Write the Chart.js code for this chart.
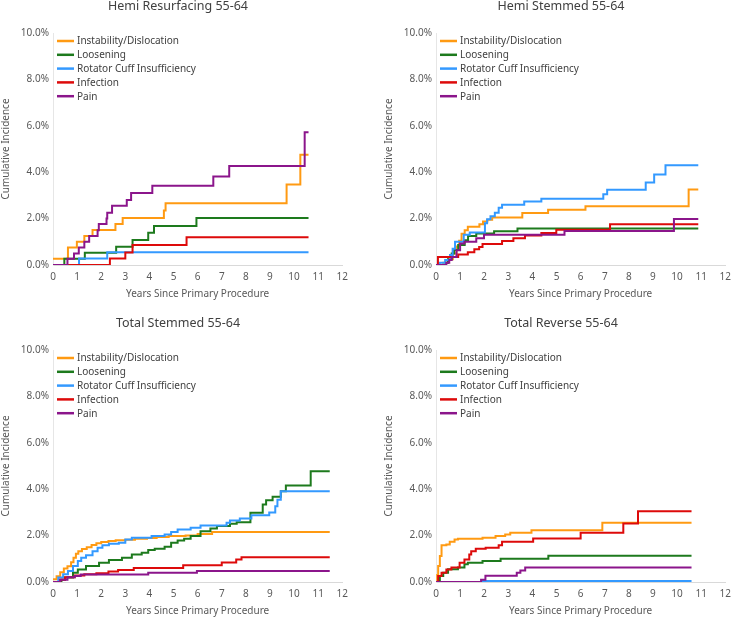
<!DOCTYPE html>
<html><head><meta charset="utf-8">
<script src="https://cdn.jsdelivr.net/npm/chart.js@4/dist/chart.umd.min.js"></script>
<style>
html,body{margin:0;padding:0;background:#fff;overflow:hidden;width:737px;height:619px;position:relative}
canvas{position:absolute}
</style></head><body>
<canvas id="c0" width="369" height="305" style="left:-15px;top:0px"></canvas>
<canvas id="c1" width="369" height="305" style="left:368px;top:0px"></canvas>
<canvas id="c2" width="369" height="305" style="left:-15px;top:317px"></canvas>
<canvas id="c3" width="369" height="305" style="left:368px;top:317px"></canvas>
<script>
// ---------- DATA ----------
const causes = ['Instability/Dislocation', 'Loosening', 'Rotator Cuff Insufficiency', 'Infection', 'Pain'];
const panelTitles = ['Hemi Resurfacing 55-64', 'Hemi Stemmed 55-64', 'Total Stemmed 55-64', 'Total Reverse 55-64'];
const xTickValues = [0,1,2,3,4,5,6,7,8,9,10,11,12];
const yTickValues = [0,2,4,6,8,10];
const xAxisTitle = 'Years Since Primary Procedure';
const yAxisTitle = 'Cumulative Incidence';

// [years, cumulative incidence %]
const hrInstability = [[0,0.27],[0.62,0.75],[0.99,1.0],[1.3,1.25],[1.64,1.51],[2.59,1.77],[2.89,2.03],[4.6,2.35],[4.67,2.66],[9.69,3.47],[10.26,4.75],[10.6,4.75]];
const hrLoosening = [[0,0],[0.47,0.27],[1.32,0.53],[2.62,0.79],[3.3,1.08],[3.95,1.39],[4.19,1.68],[5.95,2.03],[10.6,2.03]];
const hrRotatorCuff = [[0,0],[1.08,0.28],[2.25,0.55],[10.6,0.55]];
const hrInfection = [[0,0],[2.36,0.28],[3.0,0.54],[3.3,0.86],[5.54,1.2],[10.6,1.2]];
const hrPain = [[0,0],[0.6,0.27],[0.87,0.5],[1.07,0.75],[1.3,1.0],[1.5,1.25],[1.85,1.5],[1.9,1.77],[2.22,2.0],[2.25,2.25],[2.45,2.55],[3.06,2.8],[3.24,3.1],[4.12,3.42],[6.65,3.82],[7.31,4.27],[10.44,5.72],[10.6,5.72]];

const hsInstability = [[0,0],[0.3,0.1],[0.5,0.25],[0.7,0.5],[0.85,0.8],[0.96,1.05],[1.06,1.35],[1.19,1.5],[1.32,1.65],[1.8,1.76],[1.95,1.87],[2.13,1.95],[2.33,2.05],[3.58,2.24],[4.65,2.38],[6.2,2.53],[10.48,3.25],[10.88,3.25]];
const hsLoosening = [[0,0],[0.4,0.1],[0.5,0.25],[0.65,0.5],[0.75,0.65],[0.92,0.86],[1.19,1.07],[1.33,1.25],[1.67,1.36],[2.41,1.46],[3.38,1.57],[10.88,1.57]];
const hsRotatorCuff = [[0,0],[0.15,0.1],[0.38,0.22],[0.58,0.43],[0.69,0.7],[0.79,1.0],[1.15,1.3],[1.4,1.4],[2.03,1.8],[2.12,1.97],[2.26,2.1],[2.44,2.25],[2.6,2.47],[2.74,2.6],[3.66,2.74],[4.37,2.86],[6.94,3.05],[7.1,3.24],[8.7,3.56],[9.05,3.9],[9.52,4.3],[10.88,4.3]];
const hsInfection = [[0,0],[0.08,0.34],[0.92,0.45],[1.32,0.55],[1.59,0.68],[1.79,0.78],[1.93,0.9],[2.74,1.03],[3.21,1.15],[3.69,1.27],[4.37,1.38],[4.99,1.52],[7.22,1.76],[10.88,1.76]];
const hsPain = [[0,0],[0.43,0.1],[0.55,0.22],[0.65,0.35],[0.85,0.64],[1.0,0.93],[1.18,1.0],[1.67,1.15],[1.99,1.3],[5.33,1.47],[9.87,1.98],[10.88,1.98]];

const tsInstability = [[0,0.12],[0.15,0.25],[0.3,0.42],[0.45,0.58],[0.6,0.68],[0.75,0.85],[0.85,1.05],[0.95,1.22],[1.05,1.33],[1.2,1.42],[1.4,1.5],[1.6,1.6],[1.8,1.67],[2.0,1.72],[2.3,1.77],[2.6,1.8],[3.0,1.82],[3.4,1.86],[3.9,1.9],[4.3,1.94],[4.8,1.98],[5.5,2.0],[6.0,2.07],[6.6,2.15],[11.48,2.15]];
const tsLoosening = [[0,0],[0.35,0.1],[0.5,0.19],[0.83,0.4],[1.03,0.54],[1.37,0.69],[1.91,0.83],[2.32,0.95],[2.86,1.05],[3.27,1.19],[3.68,1.26],[3.95,1.38],[4.22,1.43],[4.63,1.52],[4.9,1.69],[5.17,1.79],[5.44,1.86],[5.71,1.98],[6.12,2.19],[6.53,2.31],[6.8,2.41],[7.34,2.51],[7.62,2.58],[8.19,2.98],[8.7,3.34],[8.84,3.52],[9.11,3.67],[9.45,3.91],[9.66,4.16],[10.69,4.77],[11.48,4.77]];
const tsRotatorCuff = [[0,0],[0.22,0.19],[0.42,0.33],[0.62,0.47],[0.83,0.69],[1.03,0.9],[1.17,1.05],[1.37,1.15],[1.64,1.33],[1.85,1.48],[2.05,1.58],[2.32,1.65],[2.73,1.69],[3.0,1.83],[3.27,1.91],[4.09,1.98],[4.63,2.05],[4.9,2.16],[5.17,2.26],[5.71,2.34],[6.12,2.44],[7.2,2.55],[7.34,2.65],[7.75,2.74],[8.23,2.88],[8.97,3.0],[9.22,3.27],[9.31,3.55],[9.45,3.91],[11.48,3.91]];
const tsInfection = [[0,0],[0.3,0.1],[0.5,0.2],[0.9,0.28],[1.3,0.33],[1.8,0.38],[2.3,0.45],[2.7,0.52],[3.35,0.6],[5.4,0.72],[7.0,0.84],[7.6,0.97],[7.82,1.07],[11.48,1.07]];
const tsPain = [[0,0],[0.3,0.1],[0.6,0.2],[0.9,0.26],[1.15,0.32],[3.95,0.4],[5.97,0.47],[11.48,0.47]];

const trInstability = [[0,0],[0.05,0.3],[0.09,0.69],[0.16,1.12],[0.23,1.58],[0.43,1.62],[0.57,1.73],[0.77,1.83],[0.91,1.86],[1.93,1.91],[2.47,1.98],[2.87,2.05],[3.08,2.12],[3.96,2.23],[6.9,2.55],[10.6,2.55]];
const trLoosening = [[0,0],[0.16,0.26],[0.3,0.4],[0.5,0.55],[0.91,0.62],[1.18,0.76],[1.32,0.83],[1.93,0.9],[2.68,1.0],[4.66,1.13],[10.6,1.13]];
const trRotatorCuff = [[0,0],[1.9,0.04],[10.6,0.04]];
const trInfection = [[0,0],[0.09,0.26],[0.23,0.4],[0.43,0.54],[0.64,0.62],[0.98,0.83],[1.18,0.97],[1.38,1.19],[1.46,1.33],[1.65,1.43],[2.06,1.48],[2.6,1.58],[2.74,1.73],[4.03,1.88],[6.0,2.12],[7.77,2.52],[8.38,3.05],[10.6,3.05]];
const trPain = [[0,0],[1.87,0.1],[2.05,0.27],[3.35,0.4],[3.5,0.5],[3.7,0.62],[10.6,0.62]];

const panelSeries = [
  [hrInstability, hrLoosening, hrRotatorCuff, hrInfection, hrPain],
  [hsInstability, hsLoosening, hsRotatorCuff, hsInfection, hsPain],
  [tsInstability, tsLoosening, tsRotatorCuff, tsInfection, tsPain],
  [trInstability, trLoosening, trRotatorCuff, trInfection, trPain]
];

// ---------- STYLE ----------
const colors = ['#ff9a12', '#1d7a1d', '#3399ff', '#dd0a0a', '#8b158b'];
const FONT = '"Segoe UI", "Noto Sans", "Open Sans", sans-serif';
Chart.defaults.font.family = FONT;
Chart.defaults.font.size = 10;
Chart.defaults.color = '#595959';

const decor = {
  id: 'decor',
  afterDatasetsDraw(chart, args, opts) {
    const {ctx, chartArea} = chart;
    ctx.save();
    ctx.font = '12.5px ' + FONT;
    ctx.fillStyle = '#404040';
    ctx.textAlign = 'center';
    ctx.textBaseline = 'middle';
    ctx.fillText(opts.title, chartArea.left + 125, chartArea.top - 27);
    ctx.font = '10px ' + FONT;
    ctx.textAlign = 'left';
    chart.data.datasets.forEach((ds, i) => {
      const y = chartArea.top + 8 + i * 13.8;
      ctx.strokeStyle = ds.borderColor;
      ctx.lineWidth = 2.5;
      ctx.beginPath();
      ctx.moveTo(chartArea.left + 4, y);
      ctx.lineTo(chartArea.left + 21, y);
      ctx.stroke();
      ctx.fillStyle = '#404040';
      ctx.fillText(ds.label, chartArea.left + 24, y + 0.5);
    });
    ctx.restore();
  }
};

panelSeries.forEach((series, p) => {
  new Chart(document.getElementById('c' + p), {
    type: 'line',
    data: {
      datasets: series.map((pts, i) => ({
        label: causes[i],
        data: pts.map(d => ({x: d[0], y: d[1]})),
        borderColor: colors[i],
        backgroundColor: colors[i],
        borderWidth: 2,
        pointRadius: 0,
        stepped: true,
        fill: false,
        order: series.length - 1 - i
      }))
    },
    options: {
      responsive: false,
      animation: false,
      devicePixelRatio: 1,
      layout: {padding: {top: 33, right: 6, left: 0, bottom: 0}},
      plugins: {
        legend: {display: false},
        tooltip: {enabled: false},
        decor: {title: panelTitles[p]}
      },
      scales: {
        x: {
          type: 'linear',
          min: 0, max: 12,
          afterFit: s => { s.height = 40; },
          afterBuildTicks: s => { s.ticks = xTickValues.map(v => ({value: v})); },
          ticks: {padding: 6, maxRotation: 0, autoSkip: false, color: '#595959'},
          grid: {display: false, drawTicks: false},
          border: {display: true, color: '#d9d9d9', width: 1},
          title: {display: true, text: xAxisTitle, color: '#595959', font: {size: 10}, padding: {top: 0, bottom: 5}}
        },
        y: {
          min: 0, max: 10,
          afterFit: s => { s.width = 68; },
          afterBuildTicks: s => { s.ticks = yTickValues.map(v => ({value: v})); },
          ticks: {padding: 4, color: '#595959', callback: v => v.toFixed(1) + '%'},
          grid: {display: false, drawTicks: false},
          border: {display: true, color: '#e6e6e6', width: 1},
          title: {display: true, text: yAxisTitle, color: '#595959', font: {size: 10}, padding: {top: 14.7, bottom: 0}}
        }
      }
    },
    plugins: [decor]
  });
});
</script>
</body></html>
